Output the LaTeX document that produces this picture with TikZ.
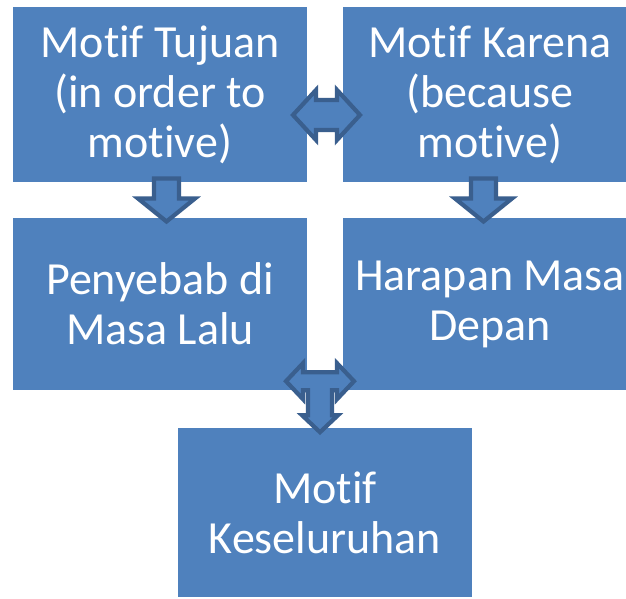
\documentclass[tikz,border=0pt]{standalone}
\usepackage{fontspec}
\setmainfont{Carlito}[Ligatures={NoCommon,NoDiscretionary,NoContextual,NoRare}]
\usetikzlibrary{calc}
\definecolor{boxblue}{HTML}{4F81BD}
\definecolor{edgeblue}{HTML}{3A5F8E}
\begin{document}
\begin{tikzpicture}[x=1pt,y=-1pt,
  box/.style={fill=boxblue, draw=none, text=white, align=center, inner sep=0pt,
    minimum width=294pt, font=\fontsize{46}{50}\selectfont},
  blockarrow/.style={fill=boxblue, draw=edgeblue, line width=4.2pt, line join=miter}]
\clip (0,0) rectangle (626,599);
\fill[white] (0,0) rectangle (626,599);
\node[box, minimum height=175pt] (b1) at (160,94.5) {Motif Tujuan\\(in order to\\motive)};
\node[box, minimum height=175pt] (b2) at (490,94.5) {Motif Karena\\(because\\motive)};
\node[box, minimum height=172pt] (b3) at (160,304) {Penyebab di\\Masa Lalu};
\node[box, minimum height=172pt] (b4) at (490,304) {Harapan Masa\\Depan};
\node[box, minimum height=169pt] (b5) at (325,512.5) {Motif\\Keseluruhan};
% double arrow between b1 and b2
\coordinate (h12) at ($(b1.east)!0.5!(b2.west)+(1.5,20.5)$);
\begin{scope}[shift={(h12)}]
\draw[blockarrow] (-33.5,0) -- (-10.5,-25) -- (-10.5,-15) -- (10.5,-15) -- (10.5,-25)
  -- (33.5,0) -- (10.5,25) -- (10.5,15) -- (-10.5,15) -- (-10.5,25) -- cycle;
\end{scope}
% down arrows
\coordinate (d13) at ($(b1.south)!0.5!(b3.north)+(6.5,0)$);
\begin{scope}[shift={(d13)}]
\draw[blockarrow] (-12.5,-21.5) -- (12.5,-21.5) -- (12.5,-1.5) -- (28.5,-1.5) -- (0,21.5)
  -- (-28.5,-1.5) -- (-12.5,-1.5) -- cycle;
\end{scope}
\coordinate (d24) at ($(b2.south)!0.5!(b4.north)+(-6.5,0)$);
\begin{scope}[shift={(d24)}]
\draw[blockarrow] (-12.5,-21.5) -- (12.5,-21.5) -- (12.5,-1.5) -- (28.5,-1.5) -- (0,21.5)
  -- (-28.5,-1.5) -- (-12.5,-1.5) -- cycle;
\end{scope}
% T arrow between b3, b4 and b5
\coordinate (t345) at ($(b3.south east)!0.5!(b4.south west)+(-5,-9)$);
\begin{scope}[shift={(t345)}]
\draw[blockarrow] (-34,0) -- (-17,-18) -- (-17,-9) -- (17,-9) -- (17,-18) -- (34,0)
  -- (17,18) -- (17,9) -- (12,9) -- (12,34) -- (18,34) -- (0,51) -- (-18,34)
  -- (-12,34) -- (-12,9) -- (-17,9) -- (-17,18) -- cycle;
\end{scope}
\end{tikzpicture}
\end{document}
